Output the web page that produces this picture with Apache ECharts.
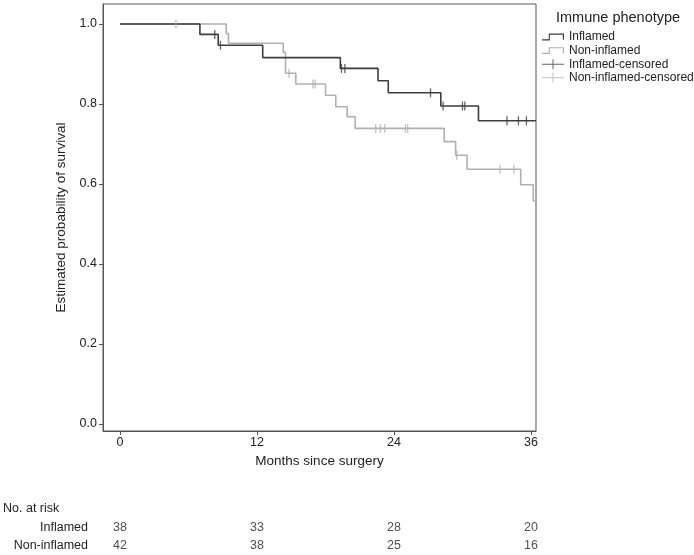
<!DOCTYPE html>
<html>
<head>
<meta charset="utf-8">
<script src="https://cdn.jsdelivr.net/npm/echarts@6/dist/echarts.min.js"></script>
<style>html,body{margin:0;padding:0;background:#fff}#c{width:694px;height:555px}</style>
</head>
<body>
<div id="c"></div>
<script>
// ---- data ----
const xTicks = [0, 12, 24, 36];
const yTicks = [0, 0.2, 0.4, 0.6, 0.8, 1.0];

const inflamedTimes = [0, 7.0, 8.6, 12.5, 19.3, 22.6, 23.5, 28.1, 31.4, 36.44];
const inflamedSurv  = [1.0, 0.974, 0.947, 0.916, 0.889, 0.858, 0.828, 0.795, 0.758, 0.758];
const inflamedCensor = [8.3, 8.8, 19.4, 19.7, 27.2, 28.3, 30.0, 30.2, 33.9, 34.9, 35.6];

const nonInfTimes = [0, 9.3, 9.5, 14.3, 14.5, 15.4, 18.0, 18.9, 19.9, 20.6, 28.4, 29.4, 30.4, 35.1, 36.2, 36.44];
const nonInfSurv  = [1.0, 0.976, 0.952, 0.929, 0.877, 0.850, 0.822, 0.793, 0.768, 0.739, 0.706, 0.672, 0.637, 0.598, 0.558, 0.558];
const nonInfCensor = [4.9, 14.8, 16.9, 17.1, 22.4, 22.8, 23.2, 25.0, 25.2, 29.5, 33.3, 34.5];

const riskGroups = ['Inflamed', 'Non-inflamed'];
const riskTimes = [0, 12, 24, 36];
const riskInflamed = [38, 33, 28, 20];
const riskNonInflamed = [42, 38, 25, 16];

// ---- build ----
const DARK = '#3d3d3d', LIGHT = '#b0b0b0', TXT = '#222';
const FONT = '"Liberation Sans", Arial, sans-serif';
const xMin = -1.49, xMax = 36.44, yMin = -0.0175, yMax = 1.05;

function survAt(times, surv, t) {
  let s = surv[0];
  for (let i = 0; i < times.length; i++) if (times[i] <= t) s = surv[i];
  return s;
}
const stepIcon = 'path://M0,6.5 H6 V1.5 H19.5 V7 H18.5 V2.5 H7 V7.5 H0 Z';
const crossIcon = 'path://M0,4.5 H10.5 V0 H11.5 V4.5 H22 V5.5 H11.5 V10 H10.5 V5.5 H0 Z';

const riskData = [];
riskTimes.forEach((t, i) => {
  riskData.push([t, riskGroups[0], riskInflamed[i]]);
  riskData.push([t, riskGroups[1], riskNonInflamed[i]]);
});

const chart = echarts.init(document.getElementById('c'), null, {renderer: 'canvas'});
chart.setOption({
  animation: false,
  textStyle: {fontFamily: FONT},
  title: {text: 'Immune phenotype', left: 551, top: 5,
    textStyle: {fontSize: 14.5, fontWeight: 'normal', color: TXT, fontFamily: FONT}},
  legend: {
    orient: 'vertical', left: 537, top: 26, itemWidth: 22, itemHeight: 10, itemGap: 1.6,
    textStyle: {fontSize: 12, color: TXT, fontFamily: FONT},
    data: [
      {name: 'Inflamed', icon: stepIcon, itemStyle: {color: DARK, borderWidth: 0}},
      {name: 'Non-inflamed', icon: stepIcon, itemStyle: {color: LIGHT, borderWidth: 0}},
      {name: 'Inflamed-censored', icon: crossIcon, itemStyle: {color: DARK, borderWidth: 0}},
      {name: 'Non-inflamed-censored', icon: crossIcon, itemStyle: {color: LIGHT, borderWidth: 0}}
    ]
  },
  graphic: [{type: 'text', left: 3, top: 502,
    style: {text: 'No. at risk', fontSize: 12.5, fill: TXT, fontFamily: FONT}}],
  grid: [
    {left: 103, right: 158, top: 4, bottom: 124, show: true, borderColor: '#555', borderWidth: 1, backgroundColor: 'transparent'},
    {left: 103, right: 158, top: 519, height: 42}
  ],
  xAxis: [{
    type: 'value', min: xMin, max: xMax, gridIndex: 0,
    name: 'Months since surgery', nameLocation: 'middle', nameGap: 21,
    nameTextStyle: {fontSize: 13.5, color: TXT, fontFamily: FONT},
    axisLine: {show: true, onZero: false, lineStyle: {color: '#555'}},
    axisTick: {show: true, length: 4, customValues: xTicks, lineStyle: {color: '#555'}},
    axisLabel: {customValues: xTicks, fontSize: 12.5, color: TXT, margin: 5, fontFamily: FONT},
    splitLine: {show: false}
  }, {
    type: 'value', min: xMin, max: xMax, gridIndex: 1, show: false
  }],
  yAxis: [{
    type: 'value', min: yMin, max: yMax, gridIndex: 0,
    name: 'Estimated probability of survival', nameLocation: 'middle', nameGap: 33,
    nameTextStyle: {fontSize: 13.5, color: TXT, fontFamily: FONT},
    axisLine: {show: true, onZero: false, lineStyle: {color: '#555'}},
    axisTick: {show: true, length: 4, customValues: yTicks, lineStyle: {color: '#555'}},
    axisLabel: {customValues: yTicks, fontSize: 12.5, color: TXT, margin: 6, fontFamily: FONT,
      formatter: v => v.toFixed(1)},
    splitLine: {show: false}
  }, {
    type: 'category', gridIndex: 1, data: riskGroups, inverse: true,
    axisLine: {show: false}, axisTick: {show: false},
    axisLabel: {fontSize: 12.5, color: TXT, margin: 15, fontFamily: FONT}
  }],
  series: [
    {name: 'Non-inflamed', type: 'line', step: 'end', symbol: 'none',
      data: nonInfTimes.map((t, i) => [t, nonInfSurv[i]]),
      lineStyle: {color: LIGHT, width: 1.6}, itemStyle: {color: LIGHT}, z: 2},
    {name: 'Inflamed', type: 'line', step: 'end', symbol: 'none',
      data: inflamedTimes.map((t, i) => [t, inflamedSurv[i]]),
      lineStyle: {color: DARK, width: 1.6}, itemStyle: {color: DARK}, z: 3},
    {name: 'Non-inflamed-censored', type: 'scatter', symbol: 'rect', symbolSize: [1.3, 9],
      data: nonInfCensor.map(t => [t, survAt(nonInfTimes, nonInfSurv, t)]),
      itemStyle: {color: LIGHT}, z: 4},
    {name: 'Inflamed-censored', type: 'scatter', symbol: 'rect', symbolSize: [1.3, 9],
      data: inflamedCensor.map(t => [t, survAt(inflamedTimes, inflamedSurv, t)]),
      itemStyle: {color: DARK}, z: 5},
    {name: 'risk', type: 'scatter', xAxisIndex: 1, yAxisIndex: 1, symbol: 'circle', symbolSize: 1,
      itemStyle: {color: 'rgba(0,0,0,0)'}, data: riskData,
      label: {show: true, position: 'inside', formatter: p => String(p.value[2]),
        fontSize: 12.5, color: TXT, fontFamily: FONT}}
  ]
});
</script>
</body>
</html>
